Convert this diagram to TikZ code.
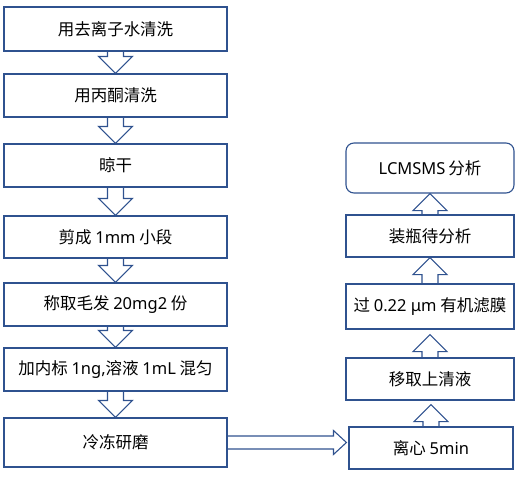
\documentclass[tikz,border=0pt]{standalone}
\usepackage{fontspec}
\setmainfont{Noto Sans CJK SC}
\newfontfamily\lat{Noto Sans}
\usetikzlibrary{calc}
\definecolor{bord}{RGB}{47,82,143}
\tikzset{
  box/.style={draw=bord, line width=1.1pt, rectangle, inner sep=0pt, font=\fontsize{16.5}{20}\selectfont, text=black},
  lbox/.style={box, minimum width=223pt},
  rbox/.style={box, minimum width=168pt},
  blk/.style={draw=bord, line width=1.1pt, line join=miter}
}
\newcommand\darr[2]{%
  \draw[blk] let \p1=(#1.south), \p2=(#2.north) in
    (\x1-8pt,\y1) -- (\x1-8pt,\y2+17pt) -- (\x1-17pt,\y2+17pt) -- (\x1,\y2)
    -- (\x1+17pt,\y2+17pt) -- (\x1+8pt,\y2+17pt) -- (\x1+8pt,\y1);}
\newcommand\uarr[3]{%
  \draw[blk] let \p1=(#1.north), \p2=(#2.south) in
    (\x1-8pt,\y1) -- (\x1-8pt,\y2-#3-17pt) -- (\x1-17pt,\y2-#3-17pt) -- (\x1,\y2-#3)
    -- (\x1+17pt,\y2-#3-17pt) -- (\x1+8pt,\y2-#3-17pt) -- (\x1+8pt,\y1);}
\begin{document}
\begin{tikzpicture}[x=1pt,y=-1pt]
\useasboundingbox (0,0) rectangle (523,477);
% left column
\node[lbox, minimum height=44pt] (b1) at (115.5,29) {用去离子水清洗};
\node[lbox, minimum height=43pt] (b2) at (115.5,95.5) {用丙酮清洗};
\node[lbox, minimum height=43pt] (b3) at (115.5,165.5) {晾干};
\node[lbox, minimum height=42pt] (b4) at (115.5,237) {剪成 {\lat 1mm} 小段};
\node[lbox, minimum height=43pt] (b5) at (115.5,304.5) {称取毛发 {\lat 20mg2} 份};
\node[lbox, minimum height=43pt] (b6) at (115.5,369.5) {加内标 {\lat 1ng,}溶液 {\lat 1mL} 混匀};
\node[lbox, minimum height=49pt] (b7) at (115.5,442.5) {冷冻研磨};
% right column
\node[rbox, minimum height=50pt, rounded corners=8pt] (r1) at (430,168) {{\lat LCMSMS}\,分析};
\node[rbox, minimum height=42pt] (r2) at (430,236) {装瓶待分析};
\node[rbox, minimum height=45pt] (r3) at (430,306.5) {过 {\lat 0.22 μm} 有机滤膜};
\node[rbox, minimum height=42pt] (r4) at (430,379) {移取上清液};
\node[box, minimum width=164pt, minimum height=42pt] (r5) at (431,448) {离心 {\lat 5min}};
% arrows
\darr{b1}{b2}
\darr{b2}{b3}
\darr{b3}{b4}
\darr{b4}{b5}
\darr{b5}{b6}
\darr{b6}{b7}
\uarr{r5}{r4}{4pt}
\uarr{r4}{r3}{5pt}
\uarr{r3}{r2}{0pt}
\uarr{r2}{r1}{0pt}
\draw[blk] let \p1=(b7.east), \p2=(r5.west) in
  (\x1,\y1+6.5pt) -- (\x2-15pt,\y1+6.5pt) -- (\x2-15pt,\y1+12pt) -- (\x2-2pt,\y1)
  -- (\x2-15pt,\y1-12pt) -- (\x2-15pt,\y1-6.5pt) -- (\x1,\y1-6.5pt);
\end{tikzpicture}
\end{document}
